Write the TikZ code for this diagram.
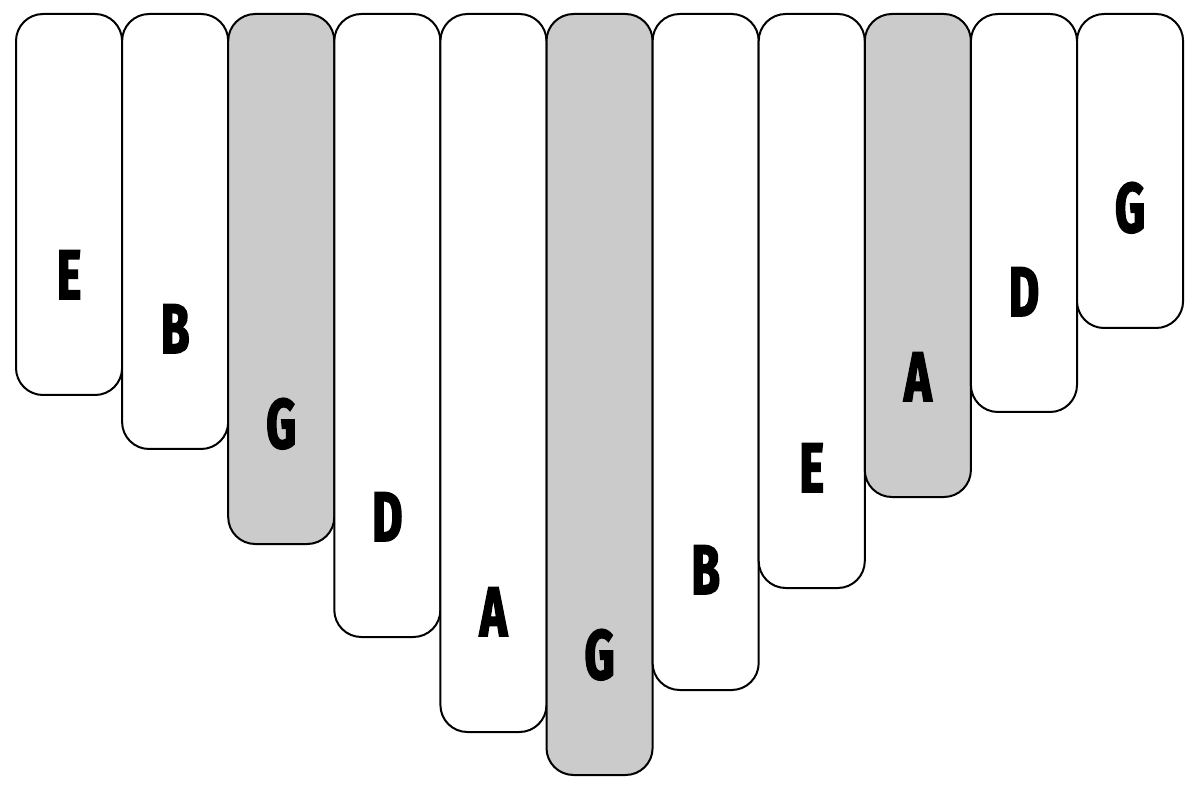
\documentclass[tikz,border=0pt]{standalone}
\usepackage{fontspec}
\newfontfamily\labfont[FakeStretch=0.66,FakeBold=2.5]{Fira Sans Bold}
\definecolor{tinegray}{HTML}{CBCBCB}
\tikzset{
  tine/.style={draw=black, line width=2pt, rounded corners=27pt, fill=white},
  grtine/.style={tine, fill=tinegray},
  note/.style={anchor=base, inner sep=0pt, font=\labfont\fontsize{70}{70}\selectfont}
}
\begin{document}
\begin{tikzpicture}[x=1pt,y=-1pt]
\useasboundingbox (0,0) rectangle (1200,791);
\def\w{106.1}
\def\top{14}
% tines: index, bottom, style, letter
\foreach \i/\b/\s/\l in {0/395/tine/E,1/449/tine/B,2/544/grtine/G,3/637/tine/D,4/732/tine/A,5/775/grtine/G,6/690/tine/B,7/588/tine/E,8/497/grtine/A,9/412/tine/D,10/328/tine/G}{
  \pgfmathsetmacro{\xl}{16+\w*\i}
  \pgfmathsetmacro{\xr}{16+\w*(\i+1)}
  \pgfmathsetmacro{\xc}{16+\w*(\i+0.5)}
  \pgfmathsetmacro{\bl}{\b-96}
  \path[\s] (\xl,\top) rectangle (\xr,\b);
  \node[note] (n\i) at (\xc,\bl) {\l};
}
\end{tikzpicture}
\end{document}
